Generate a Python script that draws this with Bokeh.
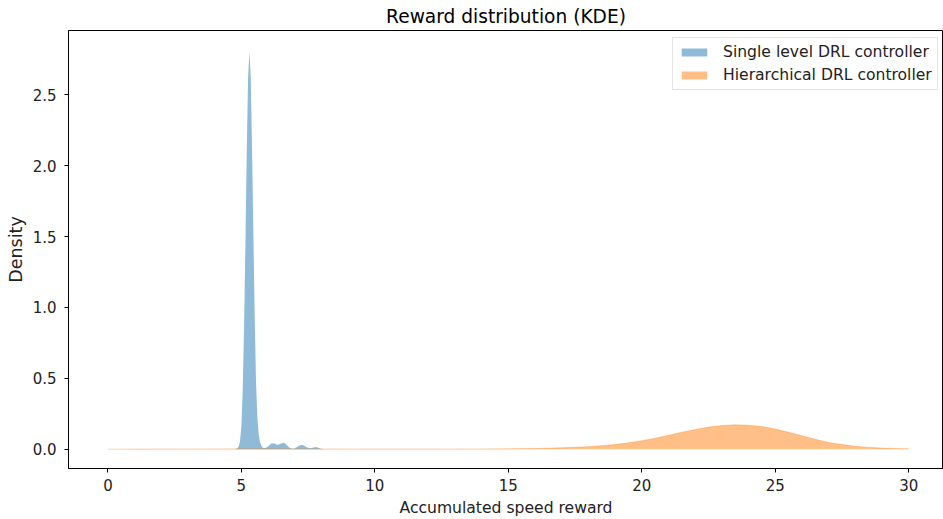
from bokeh.plotting import figure
from bokeh.models import (Legend, LegendItem, LinearAxis, FixedTicker, Range1d,
                          ColumnDataSource)
from bokeh.embed import file_html
from bokeh.resources import INLINE

# ---------------- data ----------------
single_label = "Single level DRL controller"
hier_label = "Hierarchical DRL controller"

single_x = [4.7, 4.8, 4.85, 4.9, 4.95, 5.0, 5.05, 5.1, 5.15, 5.2, 5.25, 5.3,
            5.35, 5.4, 5.45, 5.5, 5.55, 5.6, 5.65, 5.7, 5.75, 5.8, 5.9, 6.0,
            6.1, 6.2, 6.3, 6.35, 6.4, 6.5, 6.6, 6.7, 6.8, 6.9, 7.0, 7.1, 7.2,
            7.3, 7.4, 7.5, 7.6, 7.7, 7.8, 7.9, 8.0, 8.1]
single_density = [0.0, 0.002, 0.006, 0.02, 0.06, 0.16, 0.42, 0.86, 1.44, 2.09,
                  2.61, 2.81, 2.62, 2.12, 1.50, 0.93, 0.46, 0.22, 0.10, 0.05,
                  0.025, 0.01, 0.008, 0.02, 0.038, 0.042, 0.035, 0.032, 0.034,
                  0.043, 0.046, 0.03, 0.01, 0.003, 0.005, 0.017, 0.028, 0.03,
                  0.02, 0.009, 0.007, 0.013, 0.015, 0.008, 0.002, 0.0]

hier_x = [0, 1, 2, 4, 6, 8, 10, 12, 14, 15, 16, 17, 18, 19, 19.5, 20, 20.5,
          21, 21.5, 22, 22.5, 23, 23.5, 24, 24.5, 25, 25.5, 26, 26.5, 27,
          27.5, 28, 28.5, 29, 29.5, 30]
hier_density = [0.0005, 0.001, 0.0015, 0.002, 0.003, 0.002, 0.0015, 0.0015,
                0.002, 0.003, 0.005, 0.010, 0.018, 0.033, 0.045, 0.060, 0.078,
                0.098, 0.12, 0.139, 0.156, 0.168, 0.172, 0.170, 0.160, 0.143,
                0.120, 0.095, 0.070, 0.048, 0.033, 0.021, 0.013, 0.008, 0.005,
                0.003]

x_ticks = [0, 5, 10, 15, 20, 25, 30]
y_ticks = [0.0, 0.5, 1.0, 1.5, 2.0, 2.5]
y_tick_labels = {0.0: "0.0", 0.5: "0.5", 1.0: "1.0", 1.5: "1.5", 2.0: "2.0", 2.5: "2.5"}

# ---------------- styles ----------------
BLUE = "#1f77b4"
ORANGE = "#ff7f0e"
FONT = "DejaVu Sans"
TXT = "#222222"
X_START, X_END = -1.476, 31.30
Y_START, Y_END = -0.136, 2.954

p = figure(width=943, height=519, output_backend="svg", toolbar_location=None,
           x_range=Range1d(X_START, X_END), y_range=Range1d(Y_START, Y_END),
           min_border_left=68, min_border_right=0, min_border_top=30,
           min_border_bottom=51, x_axis_location=None, y_axis_location=None)

p.outline_line_color = "black"
p.outline_line_alpha = 1.0
p.outline_line_width = 1
p.xgrid.visible = False
p.ygrid.visible = False
p.background_fill_color = "white"
p.border_fill_color = "white"

p.title.text = "Reward distribution (KDE)"
p.title.align = "center"
p.title.text_font = FONT
p.title.text_font_size = "18.6px"
p.title.text_font_style = "normal"
p.title.text_color = "black"
p.title.standoff = 7
p.title.offset = 0

src_s = ColumnDataSource(dict(x=single_x, y=single_density))
src_h = ColumnDataSource(dict(x=hier_x, y=hier_density))

r_s = p.varea(x="x", y1=0, y2="y", source=src_s, fill_color=BLUE, fill_alpha=0.5)
r_h = p.varea(x="x", y1=0, y2="y", source=src_h, fill_color=ORANGE, fill_alpha=0.5)
p.line(x="x", y="y", source=src_h, line_color=ORANGE, line_alpha=0.3, line_width=1)


def style_axis(ax, tick_size, label_size):
    ax.axis_line_color = "black"
    ax.axis_line_width = 1
    ax.major_tick_line_color = "black"
    ax.major_tick_out = 4
    ax.major_tick_in = 0
    ax.minor_tick_line_color = None
    ax.major_label_text_font = FONT
    ax.major_label_text_font_size = tick_size
    ax.major_label_text_color = TXT
    ax.axis_label_text_font = FONT
    ax.axis_label_text_font_size = label_size
    ax.axis_label_text_font_style = "normal"
    ax.axis_label_text_color = TXT


xa = LinearAxis(ticker=FixedTicker(ticks=x_ticks), axis_label="Accumulated speed reward")
style_axis(xa, "15px", "15.6px")
xa.major_label_standoff = 6
xa.axis_label_standoff = 5
p.add_layout(xa, "below")

ya = LinearAxis(ticker=FixedTicker(ticks=y_ticks), axis_label="Density",
                major_label_overrides=y_tick_labels)
style_axis(ya, "15px", "17.5px")
ya.major_label_standoff = 8
ya.axis_label_standoff = 4
p.add_layout(ya, "left")

legend = Legend(items=[LegendItem(label=single_label, renderers=[r_s]),
                       LegendItem(label=hier_label, renderers=[r_h])],
                location=(604, 378))
legend.border_line_color = "#cccccc"
legend.border_line_width = 1
legend.background_fill_alpha = 0.8
legend.label_text_font = FONT
legend.label_text_font_size = "15.6px"
legend.label_text_color = TXT
legend.glyph_width = 32
legend.glyph_height = 10
legend.label_standoff = 13
legend.label_height = 17
legend.padding = 5
legend.spacing = 5
p.add_layout(legend, "center")

open("out.html", "w").write(file_html(p, INLINE))
